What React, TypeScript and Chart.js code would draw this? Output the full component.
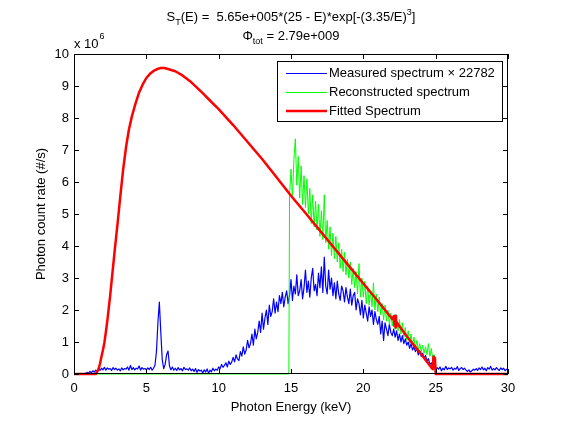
import React, { useEffect, useRef } from "react";
import { Chart, registerables } from "chart.js";

Chart.register(...registerables);

const FONT = "'Liberation Sans', Arial, Helvetica, sans-serif";

// Title lines (rich text: n = normal, sub = subscript, sup = superscript)
const TITLE_LINE_1: [string, string][] = [
  ["S", "n"],
  ["T", "sub"],
  ["(E) =  5.65e+005*(25 - E)*exp[-(3.35/E)", "n"],
  ["3", "sup"],
  ["]", "n"],
];
const TITLE_LINE_2: [string, string][] = [
  ["\u03A6", "n"],
  ["tot", "sub"],
  [" = 2.79e+009", "n"],
];
const Y_EXPONENT_BASE = "x 10";
const Y_EXPONENT = "6";

const X_LABEL = "Photon Energy (keV)";
const Y_LABEL = "Photon count rate (#/s)";

const X_TICKS = [0, 5, 10, 15, 20, 25, 30];
const Y_TICKS = [0, 1, 2, 3, 4, 5, 6, 7, 8, 9, 10];

const SERIES_LABELS = ["Measured spectrum \u00D7 22782", "Reconstructed spectrum", "Fitted Spectrum"];

// Measured spectrum (x 10^6 counts/s), channels every 0.1 keV starting at 0 keV
const MEASURED_START = 0;
const MEASURED_STEP = 0.1;
const MEASURED = [
  0, 0, 0, 0, 0, 0, 0, 0,
  0.02, 0.05, 0.03, 0.08, 0.04, 0.1, 0.06, 0.12, 0.07, 0.2, 0.11, 0.18,
  0.13, 0.21, 0.12, 0.19, 0.15, 0.17, 0.11, 0.2, 0.14, 0.18,
  0.12, 0.16, 0.1, 0.19, 0.13, 0.17, 0.15, 0.22, 0.12, 0.27,
  0.14, 0.2, 0.13, 0.18, 0.16, 0.25, 0.12, 0.2, 0.15, 0.17,
  0.13, 0.19, 0.14, 0.21, 0.12, 0.18, 0.28, 0.7, 1.6, 2.25,
  1.3, 0.45, 0.17, 0.3, 0.6, 0.72, 0.25, 0.13, 0.22, 0.12,
  0.18, 0.11, 0.2, 0.13, 0.17, 0.1, 0.21, 0.14, 0.16, 0.12,
  0.19, 0.1, 0.15, 0.08, 0.17, 0.05, 0.14, 0.09, 0.12, 0.03,
  0.13, 0.06, 0.16, 0.02, 0.12, 0.07, 0.18, 0.1, 0.15, 0.12,
  0.22, 0.16, 0.3, 0.21, 0.27, 0.35, 0.22, 0.4, 0.3, 0.37,
  0.52, 0.38, 0.6, 0.47, 0.42, 0.7, 0.56, 0.85, 0.62, 0.75,
  1.05, 0.82, 0.95, 1.25, 0.9, 1.4, 1.1, 1.3, 1.65, 1.3,
  1.9, 1.4, 1.75, 2.0, 1.55, 2.15, 1.8, 1.95, 2.35, 1.9,
  2.25, 1.95, 2.45, 2.2, 2.55, 2.1, 2.4, 2.6, 2.2, 2.45,
  2.95, 2.3, 2.75, 2.5, 3.1, 2.45, 2.6, 2.95, 2.35, 2.7,
  3.25, 2.55, 2.9, 2.4, 3.0, 3.3, 2.6, 2.8, 2.45, 3.15,
  2.7, 3.35, 2.55, 3.65, 2.75, 2.5, 3.25, 2.65, 3.0, 2.45,
  2.85, 2.35, 2.9, 2.5, 2.3, 2.75, 2.6, 2.25, 2.7, 2.4,
  2.2, 2.65, 2.15, 2.45, 2.55, 2.0, 2.35, 2.2, 1.85, 2.3,
  1.75, 2.15, 1.9, 1.65, 2.1, 1.8, 2.0, 1.55, 1.95, 1.7,
  1.55, 1.8, 1.25, 1.65, 1.05, 1.6, 1.4, 1.2, 1.55, 1.3,
  1.2, 1.4, 1.15, 1.35, 1.05, 1.25, 1.0, 1.2, 0.95, 1.1,
  0.9, 1.0, 0.8, 0.95, 0.75, 0.85, 0.7, 0.8, 0.6, 0.72,
  0.55, 0.65, 0.5, 0.58, 0.4, 0.48, 0.3, 0.35, 0.2, 0.25,
  0.12, 0.2, 0.15, 0.22, 0.1, 0.18, 0.13, 0.24, 0.14, 0.19,
  0.16, 0.21, 0.12, 0.18, 0.15, 0.23, 0.11, 0.17, 0.2, 0.14,
  0.18, 0.12, 0.08, 0.13, 0.06, 0.1, 0.15, 0.12, 0.17, 0.11,
  0.19, 0.14, 0.22, 0.13, 0.18, 0.1, 0.2, 0.15, 0.24, 0.12,
  0.17, 0.13, 0.2, 0.15, 0.11, 0.19, 0.14, 0.18, 0.1, 0.15,
  0.13,
];

// Reconstructed spectrum: zero up to the 14.85 keV edge, then channels every 0.1 keV from 14.9 keV
const RECON_ZERO_E = [0, 14.85];
const RECON_ZERO_V = [0, 0];
const RECON_START = 14.9;
const RECON_STEP = 0.1;
const RECONSTRUCTED = [
  5.6, 6.4, 5.5, 6.7, 7.35, 5.9, 6.8, 5.5, 6.5, 5.3, 6.2,
  5.2, 6.1, 5.0, 5.8, 4.7, 5.6, 4.6, 5.4, 4.5, 5.3,
  4.3, 5.1, 4.2, 5.6, 4.1, 4.8, 3.9, 4.6, 3.7, 4.4,
  3.6, 4.3, 3.5, 4.1, 3.3, 3.9, 3.2, 3.8, 3.1, 3.6,
  3.0, 3.5, 2.8, 3.3, 2.7, 3.2, 2.5, 3.45, 2.4, 3.0,
  2.4, 2.9, 2.2, 2.75, 2.15, 2.6, 2.1, 2.85, 2.0, 2.5,
  1.95, 2.4, 1.85, 2.2, 1.7, 2.15, 1.65, 2.0, 1.55, 1.9,
  1.5, 1.85, 1.4, 1.8, 1.35, 1.7, 1.25, 1.6, 1.15, 1.45,
  1.05, 1.35, 0.95, 1.25, 0.9, 1.15, 0.8, 1.05, 0.75, 0.95,
  0.7, 0.9, 0.65, 0.85, 0.6, 0.95, 0.55, 0.8, 0.45, 0.6,
  0,
];
const RECON_TAIL_E = [30];
const RECON_TAIL_V = [0];

// Fitted spectrum (x 10^6 counts/s)
const FIT_E = [
  0, 1.5, 1.7, 1.8, 1.9, 2.0, 2.1, 2.2, 2.3, 2.4, 2.5, 2.6, 2.8, 3.0, 3.2, 3.4, 3.6, 3.8,
  4.0, 4.25, 4.5, 4.75, 5.0, 5.25, 5.5, 5.75, 6.0, 6.25, 6.5, 7.0, 7.5, 8.0, 8.5, 9.0, 9.5,
  10, 11, 12, 13, 14, 15, 16, 17, 18, 19, 20, 21, 22, 22.1, 22.15, 22.2, 22.25, 22.3,
  23, 24, 24.7, 24.8, 24.85, 24.9, 24.95, 25, 30,
];
const FIT_V = [
  0, 0, 0.15, 0.33, 0.55, 0.75, 0.98, 1.3, 1.65, 2.05, 2.45, 2.9, 3.8, 4.65, 5.55, 6.4, 7.1, 7.65,
  8.05, 8.45, 8.8, 9.05, 9.25, 9.38, 9.47, 9.53, 9.56, 9.56, 9.53, 9.46, 9.33, 9.16, 8.95, 8.73, 8.5,
  8.28, 7.78, 7.25, 6.72, 6.15, 5.57, 5.03, 4.48, 3.93, 3.38, 2.83, 2.28, 1.72, 1.8, 1.5, 1.82, 1.45, 1.62,
  1.18, 0.62, 0.2, 0.15, 0.55, 0.35, 0.5, 0, 0,
];

const COLORS = ["#0000ff", "#00ff00", "#ff0000"];
const WIDTHS = [1.2, 1, 2.5];

function drawRich(ctx: CanvasRenderingContext2D, parts: [string, string][], cx: number, baseline: number) {
  const fontFor = (k: string) => (k === "n" ? `13px ${FONT}` : `9px ${FONT}`);
  const offFor = (k: string) => (k === "sub" ? 4 : k === "sup" ? -6 : 0);
  let total = 0;
  const widths = parts.map(([t, k]) => {
    ctx.font = fontFor(k);
    const w = ctx.measureText(t).width;
    total += w;
    return w;
  });
  let x = cx - total / 2;
  ctx.textAlign = "left";
  ctx.textBaseline = "alphabetic";
  parts.forEach(([t, k], i) => {
    ctx.font = fontFor(k);
    ctx.fillText(t, x, baseline + offFor(k));
    x += widths[i];
  });
}

const matlabPlugin = {
  id: "matlabDecor",
  afterDatasetsDraw(chart: any) {
    const { ctx, chartArea: a, scales } = chart;
    ctx.save();
    ctx.strokeStyle = "#000";
    ctx.lineWidth = 1;
    // box
    ctx.strokeRect(a.left + 0.5, a.top + 0.5, a.right - a.left - 1, a.bottom - a.top - 1);
    // inward ticks on all sides
    const TL = 5;
    ctx.beginPath();
    scales.x.ticks.forEach((t: any) => {
      const px = Math.round(scales.x.getPixelForValue(t.value)) + 0.5;
      ctx.moveTo(px, a.bottom);
      ctx.lineTo(px, a.bottom - TL);
      ctx.moveTo(px, a.top);
      ctx.lineTo(px, a.top + TL);
    });
    scales.y.ticks.forEach((t: any) => {
      const py = Math.round(scales.y.getPixelForValue(t.value)) + 0.5;
      ctx.moveTo(a.left, py);
      ctx.lineTo(a.left + TL, py);
      ctx.moveTo(a.right, py);
      ctx.lineTo(a.right - TL, py);
    });
    ctx.stroke();

    // legend
    const lx = 277, ly = 61, lw = 225, lh = 60;
    ctx.fillStyle = "#fff";
    ctx.fillRect(lx, ly, lw, lh);
    ctx.strokeRect(lx + 0.5, ly + 0.5, lw, lh);
    const rows = [73.5, 92.5, 111];
    chart.data.datasets.forEach((ds: any, i: number) => {
      const y = rows[i];
      ctx.strokeStyle = ds.borderColor;
      ctx.lineWidth = ds.borderWidth;
      ctx.beginPath();
      ctx.moveTo(286, y);
      ctx.lineTo(327, y);
      ctx.stroke();
      ctx.fillStyle = "#000";
      ctx.font = `13px ${FONT}`;
      ctx.textAlign = "left";
      ctx.textBaseline = "middle";
      ctx.fillText(ds.label, 329, y);
    });
    ctx.restore();
  },
  afterDraw(chart: any) {
    const { ctx, chartArea: a } = chart;
    ctx.save();
    ctx.fillStyle = "#000";
    const cx = (a.left + a.right) / 2;
    drawRich(ctx, TITLE_LINE_1, cx, 21);
    drawRich(ctx, TITLE_LINE_2, cx, 40);
    ctx.font = `13px ${FONT}`;
    ctx.textAlign = "left";
    ctx.textBaseline = "alphabetic";
    ctx.fillText(Y_EXPONENT_BASE, a.left, 48);
    const w = ctx.measureText(Y_EXPONENT_BASE).width;
    ctx.font = `9px ${FONT}`;
    ctx.fillText(Y_EXPONENT, a.left + w + 1, 39);
    ctx.restore();
  },
};

export default function App() {
  const ref = useRef<HTMLCanvasElement>(null);
  useEffect(() => {
    if (!ref.current) return;
    const measuredPts = MEASURED.map((v, i) => ({ x: MEASURED_START + i * MEASURED_STEP, y: v }));
    const reconPts = [
      ...RECON_ZERO_E.map((e, i) => ({ x: e, y: RECON_ZERO_V[i] })),
      ...RECONSTRUCTED.map((v, i) => ({ x: RECON_START + i * RECON_STEP, y: v })),
      ...RECON_TAIL_E.map((e, i) => ({ x: e, y: RECON_TAIL_V[i] })),
    ];
    const fitPts = FIT_E.map((e, i) => ({ x: e, y: FIT_V[i] }));
    const series = [measuredPts, reconPts, fitPts];

    const chart = new Chart(ref.current, {
      type: "line",
      data: {
        datasets: series.map((pts, i) => ({
          label: SERIES_LABELS[i],
          data: pts,
          borderColor: COLORS[i],
          backgroundColor: COLORS[i],
          borderWidth: WIDTHS[i],
          pointRadius: 0,
          tension: 0,
          fill: false,
          clip: false,
          order: 3 - i,
          borderJoinStyle: "round",
        })) as any,
      },
      options: {
        animation: false,
        responsive: false,
        devicePixelRatio: 1,
        parsing: true,
        layout: { padding: { left: 0, top: 54, right: 54, bottom: 0 } },
        plugins: { legend: { display: false }, tooltip: { enabled: false }, title: { display: false } },
        scales: {
          x: {
            type: "linear",
            min: 0,
            max: 30,
            grid: { display: false, drawTicks: false },
            border: { display: false },
            afterBuildTicks: (s: any) => {
              s.ticks = X_TICKS.map((v) => ({ value: v }));
            },
            afterFit: (s: any) => {
              s.height = 48;
            },
            ticks: { color: "#000", font: { family: FONT, size: 13 }, padding: 7, maxRotation: 0, autoSkip: false },
            title: { display: true, text: X_LABEL, color: "#000", font: { family: FONT, size: 13 }, padding: { top: 0, bottom: 7 } },
          },
          y: {
            type: "linear",
            min: 0,
            max: 10,
            grid: { display: false, drawTicks: false },
            border: { display: false },
            afterBuildTicks: (s: any) => {
              s.ticks = Y_TICKS.map((v) => ({ value: v }));
            },
            afterFit: (s: any) => {
              s.width = 74;
            },
            ticks: { color: "#000", font: { family: FONT, size: 13 }, padding: 5, autoSkip: false },
            title: { display: true, text: Y_LABEL, color: "#000", font: { family: FONT, size: 13 }, padding: { top: 34, bottom: 0 } },
          },
        },
      },
      plugins: [matlabPlugin as any],
    });
    return () => chart.destroy();
  }, []);
  return (
    <div style={{ position: "fixed", left: 0, top: 0, width: 562, height: 422, background: "#fff" }}>
      <canvas ref={ref} width={562} height={422} style={{ display: "block" }} />
    </div>
  );
}
